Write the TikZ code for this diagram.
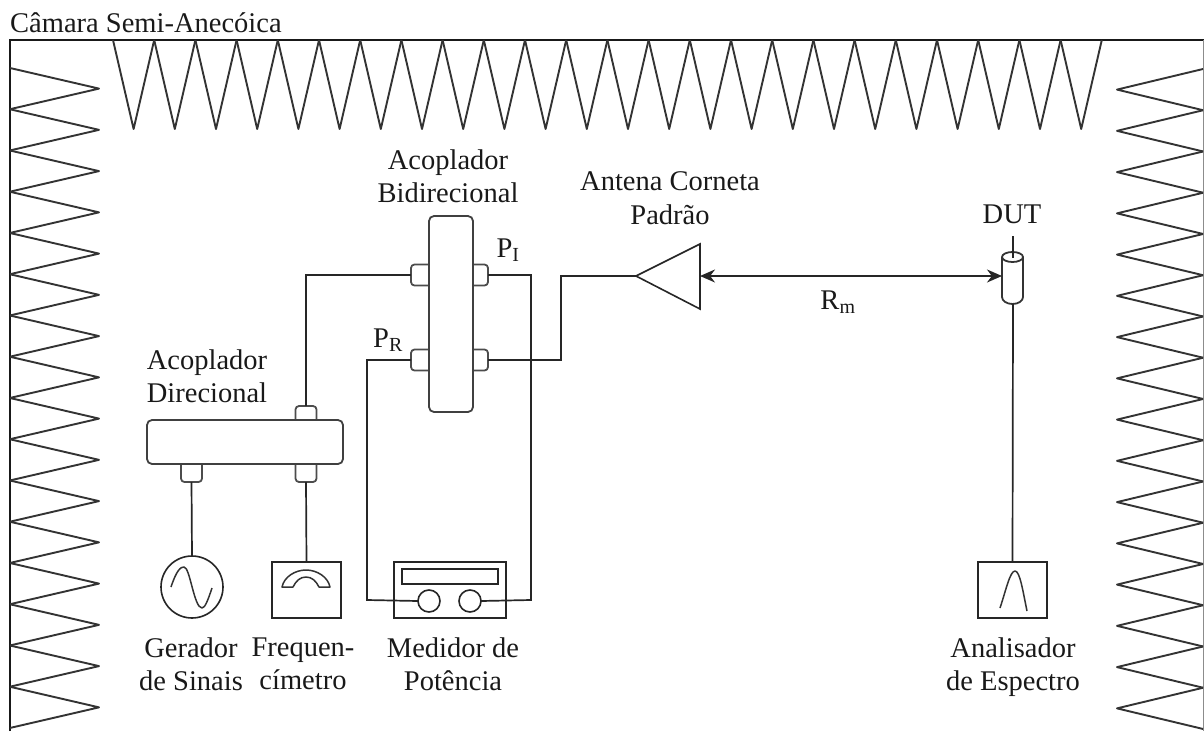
\documentclass[tikz,border=0pt]{standalone}
\usepackage{fontspec}
\setmainfont{Liberation Serif}
\usetikzlibrary{arrows.meta, positioning, backgrounds}
\tikzset{
  txt/.style={font=\fontsize{28.5}{33.5}\selectfont, text=black!90, inner sep=0pt, align=center},
  wire/.style={line width=1.7pt, black!85},
  wedge/.style={line width=1.9pt, black!80, line join=round},
  body/.style={draw=black!75, line width=1.8pt, fill=white, rounded corners=5pt,
               outer sep=0pt, inner sep=0pt, minimum width=#1},
  port/.style={draw=black!70, line width=1.8pt, fill=white, rounded corners=3.5pt,
               outer sep=0pt, inner sep=0pt},
  instr/.style={draw=black!85, line width=1.6pt, fill=white,
                outer sep=0pt, inner sep=0pt},
  sketch/.style={line width=1.5pt, black!80, line join=round},
  link/.style={<->, >={Stealth[length=15pt,width=13pt]}, line width=1.7pt, black!85},
}
\begin{document}
\begin{tikzpicture}[x=1pt,y=-1pt]
  \useasboundingbox (0,0) rectangle (1204,731);
  %% Chamber walls
  \draw[line width=2.2pt, black!90] (10,731) -- (10,40) -- (1204,40);
  \draw[line width=1pt, black!45] (1203.5,40) -- (1203.5,731);
  \foreach \i in {0,...,23}
    \draw[wedge] (113+41.2*\i,40) -- ++(20.6,89) -- ++(20.6,-89);
  \foreach \i in {0,...,15} {
    \draw[wedge] (10,68+41.25*\i) -- ++(89,20.6) -- ++(-89,20.6);
    \draw[wedge] (1203,69+41.25*\i) -- ++(-86,20.6) -- ++(86,20.6);
  }
  \node[txt, anchor=west] (chamber) at (10,22.5) {Câmara Semi-Anecóica};

  %% Bidirectional coupler
  \node[port, minimum width=25pt, minimum height=21pt] (bidA) at (423.5,275) {};
  \node[port, minimum width=25pt, minimum height=21pt] (bidB) at (475.5,275) {};
  \node[port, minimum width=25pt, minimum height=21pt] (bidC) at (423.5,360) {};
  \node[port, minimum width=25pt, minimum height=21pt] (bidD) at (475.5,360) {};
  \node[body=44pt, minimum height=196pt] (bid) at (451,314) {};
  \node[txt] (bidlbl) at (448,176) {Acoplador\\Bidirecional};
  \node[txt] (pi) at (508,250) {P\textsubscript{I}};
  \node[txt] (pr) at (388,340) {P\textsubscript{R}};

  %% Directional coupler
  \node[port, minimum width=21pt, minimum height=28pt] (dirA) at (306,420) {};
  \node[port, minimum width=21pt, minimum height=28pt] (dirB) at (191.5,468) {};
  \node[port, minimum width=21pt, minimum height=28pt] (dirC) at (306,468) {};
  \node[body=196pt, minimum height=44pt] (dir) at (245,442) {};
  \node[txt] (dirlbl) at (207,376) {Acoplador\\Direcional};

  %% Instruments
  \node[instr, circle, minimum size=62pt] (gen) at (192,587) {};
  \draw[sketch] (171,587) .. controls (177,569) and (181,567) .. (184,567)
    .. controls (190,567) and (194,608) .. (202,608) .. controls (205,608) and (208,600) .. (212,588);
  \node[txt] (genlbl) at (191,664) {Gerador\\de Sinais};
  \node[instr, minimum width=69pt, minimum height=56pt] (freq) at (306.5,590) {};
  \draw[sketch] (282,587) .. controls (284,577) and (295,570) .. (306,570)
    .. controls (317,570) and (328,577) .. (330,587) -- (319,587)
    .. controls (316,581) and (312,577) .. (306,577) .. controls (300,577) and (296,581) .. (293,587) -- cycle;
  \node[txt] (freqlbl) at (303,664) {Frequen-\\címetro};
  \node[instr, minimum width=112pt, minimum height=56pt] (meter) at (450,590) {};
  \node[instr, minimum width=96pt, minimum height=15pt] (display) at (450,576.5) {};
  \node[instr, circle, minimum size=22pt] (knobL) at (429,601) {};
  \node[instr, circle, minimum size=22pt] (knobR) at (470,601) {};
  \node[txt] (meterlbl) at (453,664) {Medidor de\\Potência};
  \node[instr, minimum width=69pt, minimum height=56pt] (spec) at (1012.5,590) {};
  \draw[sketch] (1000,608) .. controls (1006,590) and (1010,571) .. (1015,571)
    .. controls (1020,571) and (1023,592) .. (1027,611);
  \node[txt] (speclbl) at (1013,667) {Analisador\\de Espectro};

  %% Horn antenna
  \coordinate (horntip) at (636,276);
  \coordinate (hornA) at (700,244);
  \coordinate (hornB) at (700,309);
  \coordinate (hornC) at (700,276);
  \draw[line width=1.6pt, black!85] (horntip) -- (hornA) -- (hornB) -- cycle;
  \node[txt] (hornlbl) at (670,198) {Antena Corneta\\Padrão};

  %% DUT
  \draw[line width=1.8pt, black!80, fill=white] (1002,257) -- (1002,297)
    arc[start angle=180, end angle=360, x radius=10.5pt, y radius=7pt]
    -- (1023,257) arc[start angle=0, end angle=180, x radius=10.5pt, y radius=5pt] -- cycle;
  \draw[line width=1.8pt, black!80] (1002,257) arc[start angle=180, end angle=360, x radius=10.5pt, y radius=5pt];
  \coordinate (dutW) at (1002,276);
  \coordinate (dutS) at (1013,304);
  \coordinate (dutN) at (1013,236);
  \coordinate (dutT) at (1013,258);
  \draw[wire] (dutN) -- (dutT);
  \node[txt] (dutlbl) at (1012,214) {DUT};

  %% Connections
  \draw[wire] (dirA.north) -- (306,275) -- (bidA.west);
  \draw[wire] (dirB.south) -- (gen.north);
  \draw[wire] (dirC.south) -- (freq.north);
  \draw[wire] (bidB.east) -- (531,275) -- (531,600) -- (knobR.east);
  \draw[wire] (bidC.west) -- (367,360) -- (367,600) -- (knobL.west);
  \draw[wire] (bidD.east) -- (561,360) -- (561,276) -- (horntip);
  \draw[wire] (dutS) -- (spec.north);
  \draw[link] (hornC) -- (dutW);
  \node[txt] (rm) at (838,302) {R\textsubscript{m}};
\end{tikzpicture}
\end{document}
